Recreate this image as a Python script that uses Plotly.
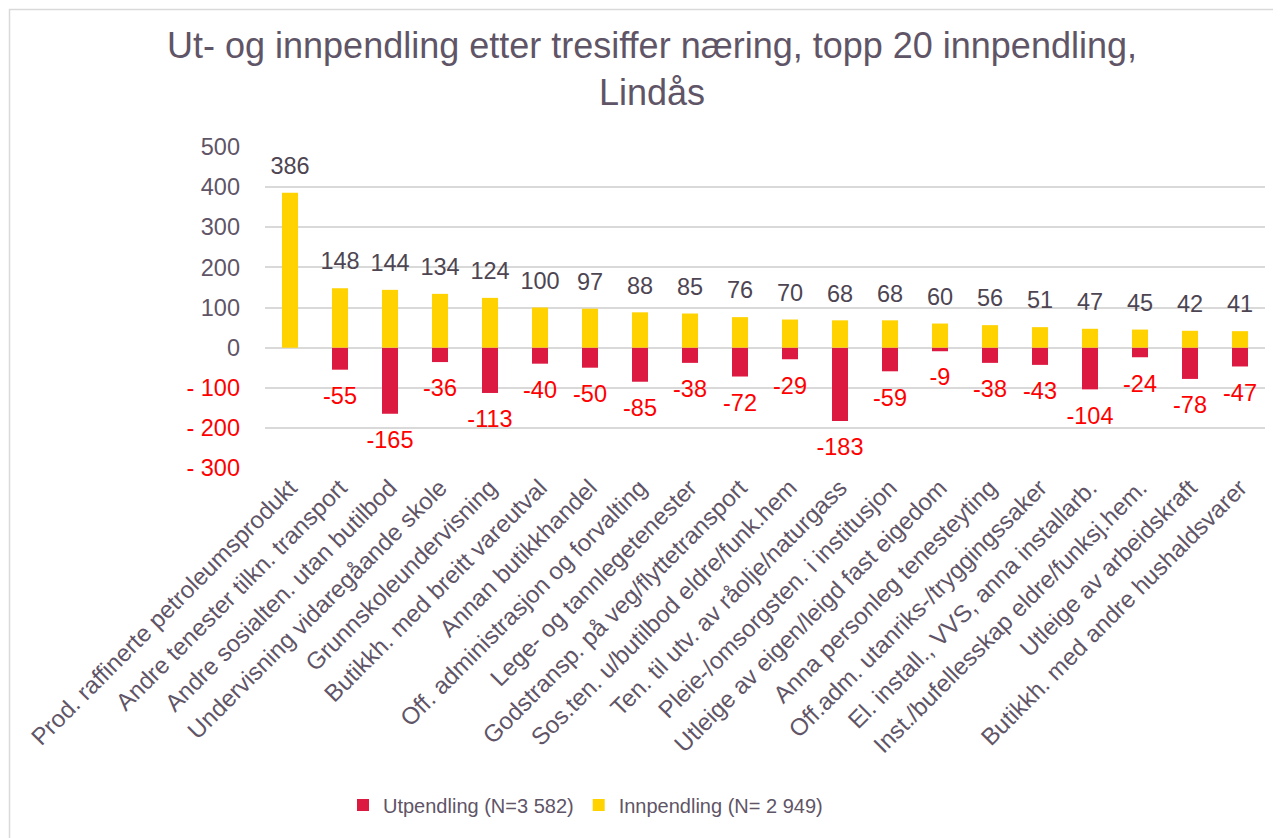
import plotly.graph_objects as go

categories = [
    "Prod. raffinerte petroleumsprodukt",
    "Andre tenester tilkn. transport",
    "Andre sosialten. utan butilbod",
    "Undervisning vidaregåande skole",
    "Grunnskoleundervisning",
    "Butikkh. med breitt vareutval",
    "Annan butikkhandel",
    "Off. administrasjon og forvalting",
    "Lege- og tannlegetenester",
    "Godstransp. på veg/flyttetransport",
    "Sos.ten. u/butilbod eldre/funk.hem",
    "Ten. til utv. av råolje/naturgass",
    "Pleie-/omsorgsten. i institusjon",
    "Utleige av eigen/leigd fast eigedom",
    "Anna personleg tenesteyting",
    "Off.adm. utanriks-/tryggingssaker",
    "El. install., VVS, anna installarb.",
    "Inst./bufellesskap eldre/funksj.hem.",
    "Utleige av arbeidskraft",
    "Butikkh. med andre hushaldsvarer",
]
innpendling = [386, 148, 144, 134, 124, 100, 97, 88, 85, 76, 70, 68, 68, 60, 56, 51, 47, 45, 42, 41]
utpendling = [None, -55, -165, -36, -113, -40, -50, -85, -38, -72, -29, -183, -59, -9, -38, -43, -104, -24, -78, -47]

y_tickvals = [500, 400, 300, 200, 100, 0, -100, -200, -300]
y_ticktext = ["500", "400", "300", "200", "100", "0",
              "<span style='color:#FF0000'>- 100</span>",
              "<span style='color:#FF0000'>- 200</span>",
              "<span style='color:#FF0000'>- 300</span>"]

FONT = "Liberation Sans, Arial, sans-serif"
TXT = "#5F5567"
RED = "#DC1941"
YEL = "#FFD200"

fig = go.Figure()
fig.add_trace(go.Bar(x=categories, y=utpendling, name="Utpendling (N=3 582)",
                     marker=dict(color=RED, line=dict(width=0)), width=0.32))
fig.add_trace(go.Bar(x=categories, y=innpendling, name="Innpendling (N= 2 949)",
                     marker=dict(color=YEL, line=dict(width=0)), width=0.32))

# data labels
fig.add_trace(go.Scatter(x=categories, y=innpendling, mode="markers+text",
                         text=[str(v) for v in innpendling], textposition="top center",
                         marker=dict(size=19, color="rgba(0,0,0,0)"),
                         textfont=dict(family=FONT, size=23.5, color="#4D4552"),
                         showlegend=False, hoverinfo="skip", cliponaxis=False))
ut_x = [c for c, v in zip(categories, utpendling) if v is not None]
ut_y = [v for v in utpendling if v is not None]
fig.add_trace(go.Scatter(x=ut_x, y=ut_y, mode="markers+text",
                         text=[str(v) for v in ut_y], textposition="bottom center",
                         marker=dict(size=25, color="rgba(0,0,0,0)"),
                         textfont=dict(family=FONT, size=23.5, color="#FF0000"),
                         showlegend=False, hoverinfo="skip", cliponaxis=False))

O = 8  # page body offset
W, H = 1273, 830
L, R, T, B = 257, 16, 139, 370
pw, ph = W - L - R, H - T - B

def px_x(p):
    return (p - O - L) / pw

def px_y(p):
    return (H - B - (p - O)) / ph

fig.update_layout(
    width=W, height=H,
    margin=dict(l=L, r=R, t=T, b=B, autoexpand=False),
    paper_bgcolor="white", plot_bgcolor="white",
    barmode="overlay",
    font=dict(family=FONT, color=TXT, size=23.5),
    title=dict(text="Ut- og innpendling etter tresiffer næring, topp 20 innpendling,<br>Lindås",
               x=(652 - O) / W, xref="container", xanchor="center",
               y=1 - 50 / H, yref="container", yanchor="top",
               font=dict(family=FONT, size=36, color=TXT)),
    xaxis=dict(type="category", range=[-0.5, len(categories) - 0.5], tickangle=-45,
               showgrid=False, showline=False, ticks="",
               tickfont=dict(family=FONT, size=24, color=TXT), automargin=False),
    yaxis=dict(range=[-300, 500], tickvals=y_tickvals, ticktext=y_ticktext,
               showgrid=True, gridcolor="#D9D9D9", gridwidth=1.5,
               zeroline=True, zerolinecolor="#D9D9D9", zerolinewidth=1.5,
               showline=False, ticks="", ticklabelstandoff=24,
               tickfont=dict(family=FONT, size=23.5, color=TXT), automargin=False),
    legend=dict(orientation="h", x=px_x(343), xanchor="left", y=px_y(805), yanchor="middle",
                font=dict(family=FONT, size=20, color=TXT), bgcolor="rgba(0,0,0,0)",
                traceorder="normal"),
    showlegend=True,
    shapes=[dict(type="rect", xref="paper", yref="paper",
                 x0=px_x(9.5), x1=px_x(1300), y0=px_y(850), y1=px_y(9.5),
                 line=dict(color="#D9D9D9", width=1.5), fillcolor="rgba(0,0,0,0)",
                 layer="below")],
)

fig.write_html("out.html")
